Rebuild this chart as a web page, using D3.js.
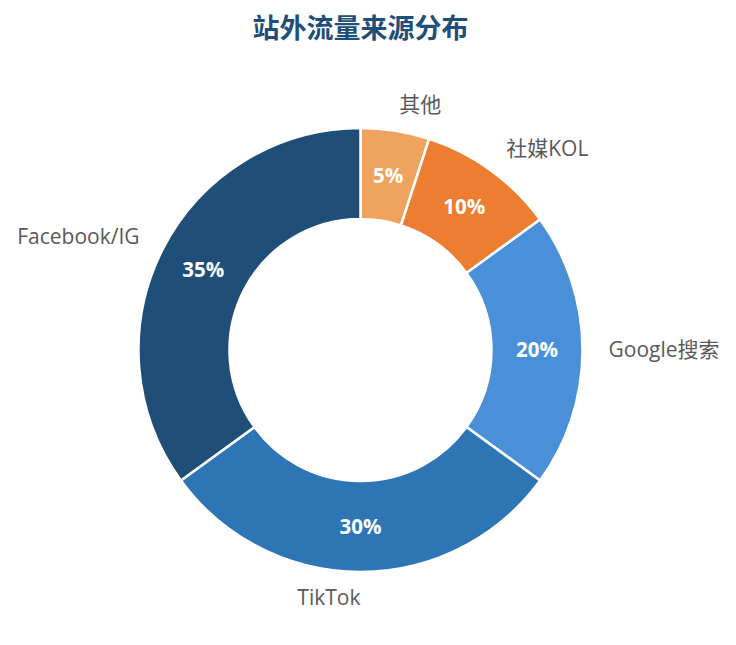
<!DOCTYPE html>
<html>
<head>
<meta charset="utf-8">
<script src="https://cdn.jsdelivr.net/npm/d3@7"></script>
<style>
  body { margin: 0; background: #fff; }
  text { font-family: "Open Sans", "Noto Sans CJK SC", sans-serif; }
  .title { font-family: "Noto Sans CJK SC", sans-serif; }
</style>
</head>
<body>
<div id="chart"></div>
<script>
// slices drawn clockwise from 12 o'clock
const categories = ['其他', '社媒KOL', 'Google搜索', 'TikTok', 'Facebook/IG'];
const shares = [5, 10, 20, 30, 35];
const colors = ['#f0a35e', '#ed7d31', '#4a90d9', '#2e75b6', '#1f4e79'];

const chart = () => {
  const width = 736;
  const height = 645;
  const cx = 360.5, cy = 350;
  const outer = 222, inner = 131;
  const labelR = 248;

  const svg = d3.select('#chart')
    .append('svg')
    .attr('width', width)
    .attr('height', height);

  svg.append('text')
    .attr('class', 'title')
    .attr('x', cx)
    .attr('y', 29)
    .attr('dy', '.35em')
    .attr('text-anchor', 'middle')
    .attr('font-size', 27)
    .attr('font-weight', 'bold')
    .attr('fill', '#1f4e79')
    .text('站外流量来源分布');

  const data = categories.map((name, i) => ({name, value: shares[i], color: colors[i]}));
  const pie = d3.pie().sort(null).value(d => d.value);
  const arcs = pie(data);
  const arc = d3.arc().innerRadius(inner).outerRadius(outer);
  const mid = d3.arc().innerRadius((inner + outer) / 2).outerRadius((inner + outer) / 2);

  const g = svg.append('g')
    .attr('transform', `translate(${cx}, ${cy})`);

  g.selectAll('path')
    .data(arcs)
    .join('path')
    .attr('d', arc)
    .attr('fill', d => d.data.color)
    .attr('stroke', '#fff')
    .attr('stroke-width', 2.5);

  g.selectAll('.pct')
    .data(arcs)
    .join('text')
    .attr('class', 'pct')
    .attr('transform', d => `translate(${mid.centroid(d)})`)
    .attr('dy', '.35em')
    .attr('text-anchor', 'middle')
    .attr('font-size', 20.5)
    .attr('font-weight', 'bold')
    .attr('fill', '#fff')
    .text(d => d.data.value + '%');

  g.selectAll('.name')
    .data(arcs)
    .join('text')
    .attr('class', 'name')
    .each(function(d) {
      const a = (d.startAngle + d.endAngle) / 2;
      const x = labelR * Math.sin(a);
      const y = -labelR * Math.cos(a);
      d3.select(this)
        .attr('x', x)
        .attr('y', y)
        .attr('text-anchor', x > 0.001 ? 'start' : 'end');
    })
    .attr('dy', '.33em')
    .attr('font-size', 21)
    .attr('fill', '#595959')
    .text(d => d.data.name);
}

chart();
</script>
</body>
</html>
